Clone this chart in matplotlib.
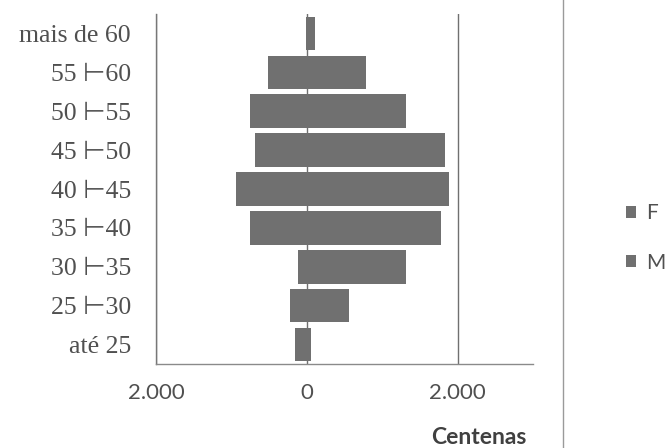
import matplotlib
matplotlib.use("Agg")
import matplotlib.pyplot as plt
from matplotlib.ticker import FuncFormatter
from matplotlib.lines import Line2D

categories = ["até 25", "25 ⊢30", "30 ⊢35", "35 ⊢40", "40 ⊢45",
              "45 ⊢50", "50 ⊢55", "55 ⊢60", "mais de 60"]
F = [-160, -225, -120, -750, -935, -685, -750, -510, -5]
M = [55, 565, 1315, 1775, 1880, 1830, 1315, 780, 115]
xticks = [-2000, 0, 2000]

bar_color = "#707070"
text_color = "#505050"

fig = plt.figure(figsize=(6.7, 4.48), dpi=100)
ax = fig.add_axes([156/670, 1-364/448, (533-156)/670, (364-14)/448])

ypos = list(range(len(categories)))
ax.barh(ypos, F, height=0.86, color=bar_color, label="F", zorder=3)
ax.barh(ypos, M, height=0.86, color=bar_color, label="M", zorder=3)

ax.set_xlim(-2000, 3000)
ax.set_ylim(-0.5, len(categories) - 0.5)
ax.set_xticks(xticks)
ax.xaxis.set_major_formatter(FuncFormatter(lambda v, p: f"{abs(int(v)):,}".replace(",", ".")))
ax.set_yticks(ypos)
ax.set_yticklabels(categories)
for lab in ax.get_yticklabels():
    lab.set_family(["Liberation Serif", "DejaVu Sans"])
    lab.set_fontsize(18.5)
    lab.set_color(text_color)
for lab in ax.get_xticklabels():
    lab.set_family("Lato")
    lab.set_fontsize(16)
    lab.set_color(text_color)

ax.tick_params(axis="both", length=0)
ax.tick_params(axis="x", pad=14)
ax.tick_params(axis="y", pad=18)
ax.grid(axis="x", color="#707070", linewidth=1.0, zorder=0)
for s in ["top", "right"]:
    ax.spines[s].set_visible(False)
ax.spines["left"].set_color("#777777")
ax.spines["bottom"].set_color("#8a8a8a")
ax.spines["left"].set_linewidth(1.0)
ax.spines["bottom"].set_linewidth(1.0)

fig.text(479/670, 1-437/448, "Centenas", ha="center", va="center",
         family="Lato", fontweight="bold", fontsize=16.5, color="#404040")

leg = ax.legend(loc="center left", bbox_to_anchor=(626/670, 1-238/448),
                bbox_transform=fig.transFigure, frameon=False, borderpad=0,
                borderaxespad=0,
                prop={"family": "Lato", "size": 15}, handlelength=0.5,
                handleheight=0.5, handletextpad=0.45, labelspacing=1.4)
for t in leg.get_texts():
    t.set_color(text_color)

fig.add_artist(Line2D([563/670, 563/670], [0, 1], color="#9a9a9a",
                      linewidth=1.0, transform=fig.transFigure))

fig.savefig("out.png", dpi=100, facecolor="white")
